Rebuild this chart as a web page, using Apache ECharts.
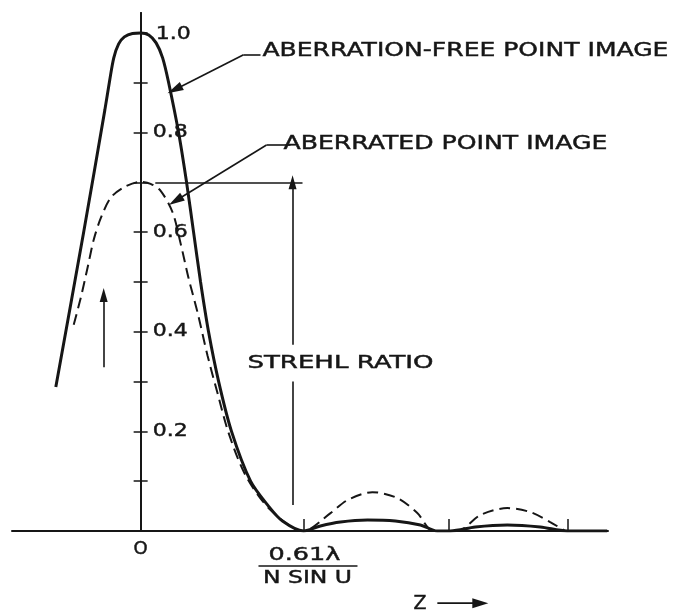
<!DOCTYPE html>
<html>
<head>
<meta charset="utf-8">
<script src="https://cdn.jsdelivr.net/npm/echarts@6/dist/echarts.min.js"></script>
<style>html,body{margin:0;padding:0;background:#fff}#c{width:674px;height:614px}</style>
</head>
<body>
<div id="c"></div>
<script>
// Z in units of the first dark ring radius (0.61λ / N sin U); intensity relative to the aberration-free peak
const freeX = [-0.521, -0.350, -0.220, -0.190, -0.165, -0.135, -0.100, -0.050, 0, 0.050, 0.095, 0.135, 0.172, 0.233, 0.282, 0.325, 0.368, 0.417, 0.479, 0.558, 0.675, 0.785, 0.871, 1.0, 1.104, 1.227, 1.393, 1.564, 1.718, 1.822, 1.902, 2.055, 2.252, 2.454, 2.620, 2.865];
const freeY = [0.289, 0.600, 0.845, 0.905, 0.950, 0.978, 0.992, 0.999, 1.0, 0.996, 0.980, 0.950, 0.900, 0.800, 0.700, 0.600, 0.500, 0.400, 0.300, 0.200, 0.100, 0.050, 0.020, 0, 0.010, 0.018, 0.022, 0.020, 0.012, 0, 0, 0.008, 0.012, 0.008, 0, 0];
const aberX = [-0.411, -0.368, -0.325, -0.288, -0.245, -0.184, -0.104, 0, 0.061, 0.123, 0.196, 0.245, 0.294, 0.350, 0.411, 0.472, 0.540, 0.644, 0.798, 1.0, 1.166, 1.270, 1.423, 1.577, 1.699, 1.798, 1.945, 2.086, 2.252, 2.393, 2.515, 2.607];
const aberY = [0.414, 0.468, 0.530, 0.585, 0.628, 0.669, 0.690, 0.701, 0.697, 0.683, 0.640, 0.578, 0.508, 0.438, 0.352, 0.277, 0.197, 0.112, 0.042, 0, 0.036, 0.062, 0.078, 0.066, 0.036, 0, 0, 0.032, 0.046, 0.038, 0.018, 0];
const yTickValues = [0.1, 0.2, 0.3, 0.4, 0.5, 0.6, 0.7, 0.8, 0.9, 1.0];
const yLabelValues = [0.2, 0.4, 0.6, 0.8, 1.0];
const xTickValues = [1, 1.89, 2.62];       // dark-ring zeros
const originLabelValue = 0;
const originLabel = 'O';
const ringLabelValue = 1;                  // first dark ring
const ringLabelNum = '0.61λ';
const ringLabelDen = 'N SIN U';
const strehlRatio = 0.70;

const INK = '#161616';
const FONT = 'DejaVu Sans';
const zip = (xs, ys) => xs.map((x, i) => [x, ys[i]]);

const chart = echarts.init(document.getElementById('c'), null, {renderer: 'canvas'});

const yBase = {
  type: 'value', min: 0, max: 1.04,
  axisLine: {show: true, onZero: true, onZeroAxisIndex: 0, lineStyle: {color: INK, width: 2}},
  splitLine: {show: false},
  axisLabel: {show: false}
};

const option = {
  animation: false,
  backgroundColor: '#fff',
  grid: {left: 12, right: 66, top: 13, bottom: 83, outerBoundsMode: 'none', containLabel: false},
  xAxis: {
    type: 'value', min: -0.79, max: 2.87,
    axisLine: {show: true, onZero: true, lineStyle: {color: INK, width: 2}},
    splitLine: {show: false},
    axisTick: {show: true, inside: true, length: 12, customValues: xTickValues, lineStyle: {color: INK, width: 1.5}},
    axisLabel: {show: false}
  },
  yAxis: [
    Object.assign({}, yBase, {
      position: 'left',
      axisTick: {show: true, inside: false, length: 7, customValues: yTickValues, lineStyle: {color: INK, width: 1.5}}
    }),
    Object.assign({}, yBase, {
      position: 'right',
      axisTick: {show: true, inside: false, length: 7, customValues: yTickValues, lineStyle: {color: INK, width: 1.5}}
    })
  ],
  series: [
    {
      name: 'Aberration-free point image', type: 'line', data: zip(freeX, freeY),
      smooth: 0.3, showSymbol: false, symbol: 'none',
      lineStyle: {color: INK, width: 3}, z: 5
    },
    {
      name: 'Aberrated point image', type: 'line', data: zip(aberX, aberY),
      smooth: 0.3, showSymbol: false, symbol: 'none',
      lineStyle: {color: INK, width: 2, type: [11, 6]}, z: 4
    },
    {
      name: 'annotations', type: 'line', data: [], clip: false, silent: true,
      markLine: {
        silent: true, symbol: ['none', 'none'], animation: false,
        label: {show: false},
        lineStyle: {color: INK, width: 1.6, type: 'solid'},
        emphasis: {disabled: true},
        data: [
          // Strehl reference level
          [{coord: [0.09, strehlRatio]}, {coord: [0.994, strehlRatio]}],
          [{coord: [0.933, 0.374]}, {coord: [0.933, strehlRatio], symbol: 'triangle', symbolSize: [8, 14]}],
          [{coord: [0.933, 0.052]}, {coord: [0.933, 0.300]}],
          // up arrow (intensity)
          [{coord: [-0.227, 0.329]}, {coord: [-0.227, 0.474], symbol: 'triangle', symbolSize: [8, 14]}],
          // leader: aberration-free
          [{coord: [0.736, 0.956]}, {coord: [0.632, 0.956]}],
          [{coord: [0.632, 0.956]}, {coord: [0.209, 0.886], symbol: 'triangle', symbolSize: [9, 16]}],
          // leader: aberrated
          [{coord: [0.920, 0.775]}, {coord: [0.773, 0.775]}],
          [{coord: [0.773, 0.775]}, {coord: [0.215, 0.663], symbol: 'triangle', symbolSize: [9, 16]}]
        ]
      }
    }
  ]
};
chart.setOption(option);

const P = (x, y) => chart.convertToPixel({gridIndex: 0}, [x, y]);
const mctx = document.createElement('canvas').getContext('2d');
function textW(str, size) {
  mctx.font = size + 'px "' + FONT + '"';
  return mctx.measureText(str).width;
}
function txt(str, p, size, scaleX, align) {
  return {type: 'text', x: p[0], y: p[1], scaleX: scaleX, z: 20,
    style: {text: str, font: size + 'px "' + FONT + '"', fill: INK, stroke: INK, lineWidth: 0.45,
      align: align || 'left', verticalAlign: 'middle'}};
}
function stretchedText(str, at, size, width, align) {
  return txt(str, P(at[0], at[1]), size, width / textW(str, size), align);
}
const graphics = [];
// y tick labels, to the right of the axis line
const yLabScale = 35 / textW('0.8', 18);
yLabelValues.forEach(v => {
  const p = P(0, v);
  graphics.push(txt(v.toFixed(1), [p[0] + (v === 1 ? 15 : 12), p[1] + (v === 1 ? 1 : 0)], 18, yLabScale, 'left'));
});
// x labels: origin and first dark ring (fraction)
const org = P(originLabelValue, 0);
graphics.push(txt(originLabel, [org[0], org[1] + 18], 18, 1.0, 'center'));
const ring = P(ringLabelValue, 0);
graphics.push(txt(ringLabelNum, [ring[0] + 1, ring[1] + 24], 18, 72 / textW(ringLabelNum, 18), 'center'));
graphics.push(txt(ringLabelDen, [ring[0] + 4, ring[1] + 47.5], 18, 89 / textW(ringLabelDen, 18), 'center'));
graphics.push({type: 'line', z: 20, shape: {x1: ring[0] - 45, y1: ring[1] + 35, x2: ring[0] + 54, y2: ring[1] + 35}, style: {stroke: INK, lineWidth: 1.6}});
// annotations
graphics.push(stretchedText('ABERRATION-FREE POINT IMAGE', [0.748, 0.964], 19, 406));
graphics.push(stretchedText('ABERRATED POINT IMAGE', [0.877, 0.777], 19, 324));
graphics.push(stretchedText('STREHL RATIO', [0.656, 0.337], 18, 186));
graphics.push(stretchedText('Z', [1.675, -0.147], 19, 13));
const zArrA = P(1.822, -0.145), zArrB = P(2.135, -0.145);
graphics.push({type: 'line', z: 20, shape: {x1: zArrA[0], y1: zArrA[1], x2: zArrB[0] - 12, y2: zArrB[1]}, style: {stroke: INK, lineWidth: 1.8}});
graphics.push({type: 'polygon', z: 20, shape: {points: [[zArrB[0], zArrB[1]], [zArrB[0] - 16, zArrB[1] - 5], [zArrB[0] - 16, zArrB[1] + 5]]}, style: {fill: INK}});
chart.setOption({graphic: graphics});
</script>
</body>
</html>
